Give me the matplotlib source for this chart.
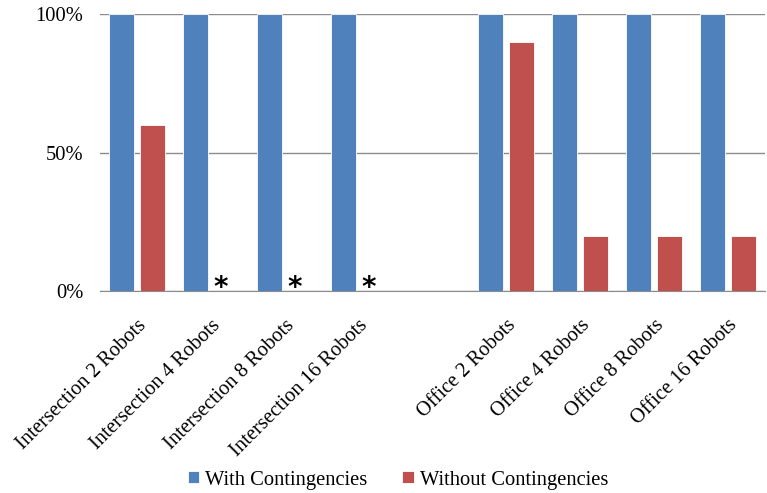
import matplotlib.pyplot as plt
import numpy as np

categories = [
    "Intersection 2 Robots", "Intersection 4 Robots", "Intersection 8 Robots",
    "Intersection 16 Robots", "",
    "Office 2 Robots", "Office 4 Robots", "Office 8 Robots", "Office 16 Robots",
]
with_cont = [100, 100, 100, 100, np.nan, 100, 100, 100, 100]
without_cont = [60, 0, 0, 0, np.nan, 90, 20, 20, 20]
# categories with no result for "without" get a star
starred = [False, True, True, True, False, False, False, False, False]

plt.rcParams["font.family"] = ["Liberation Serif", "DejaVu Serif"]
FS = 14.8

fig = plt.figure(figsize=(7.67, 4.93), dpi=100)
ax = fig.add_axes([100 / 767, 1 - 291 / 493, 665 / 767, 277 / 493])

x = np.arange(len(categories))
w = 0.34
ax.bar(x - 0.21, with_cont, w, color="#4F81BD", edgecolor="white", linewidth=0.6,
       label="With Contingencies", zorder=3)
ax.bar(x + 0.21, without_cont, w, color="#C0504D", edgecolor="white", linewidth=0.6,
       label="Without Contingencies", zorder=3)

for xi, s in zip(x, starred):
    if s:
        ax.text(xi + 0.13, -4.0, "*", ha="center", va="bottom", fontsize=20,
                fontweight="bold", family="DejaVu Sans", clip_on=False)

ax.set_xlim(-0.5, len(categories) - 0.5)
ax.set_ylim(0, 100)
ax.set_yticks([0, 50, 100])
ax.set_yticklabels(["0%", "50%", "100%"], fontsize=FS)
ax.yaxis.grid(True, color="#8c8c8c", linewidth=1, zorder=0)
ax.set_axisbelow(True)
ax.set_xticks(x)
ax.set_xticklabels(categories, rotation=45, ha="right", rotation_mode="anchor",
                   fontsize=FS)
ax.tick_params(axis="x", length=0, pad=18)
ax.tick_params(axis="y", length=0, pad=12)
for side in ["left", "right", "top"]:
    ax.spines[side].set_visible(False)
ax.spines["bottom"].set_color("#8c8c8c")

ax.legend(loc="center", bbox_to_anchor=(398 / 767, 1 - 480 / 493), bbox_transform=fig.transFigure,
          ncol=2, frameon=False, fontsize=FS, handlelength=0.55, handleheight=0.55,
          columnspacing=1.7, handletextpad=0.3)

fig.savefig("out.png", dpi=100)
